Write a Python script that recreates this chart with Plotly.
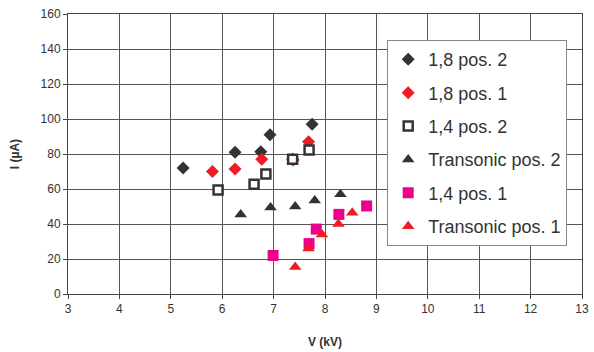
import plotly.graph_objects as go

# Data
v_18_p2 = [5.24, 6.25, 6.75, 6.93, 7.37, 7.75]
i_18_p2 = [72, 81, 81.3, 91, 77, 97]

v_18_p1 = [5.81, 6.25, 6.77, 7.38, 7.68]
i_18_p1 = [70, 71.4, 77, 76.6, 87]

v_14_p2 = [5.92, 6.62, 6.85, 7.37, 7.69]
i_14_p2 = [59.4, 62.7, 68.6, 77, 82.3]

v_tr_p2 = [6.36, 6.94, 7.42, 7.8, 8.3]
i_tr_p2 = [45.5, 49.5, 50, 53.5, 57]

v_14_p1 = [6.99, 7.69, 7.83, 8.27, 8.81]
i_14_p1 = [22, 28.8, 37.1, 45.5, 50.3]

v_tr_p1 = [7.42, 7.68, 7.94, 8.26, 8.53]
i_tr_p1 = [15.5, 26, 34, 40, 46.5]

x_ticks = list(range(3, 14))
y_ticks = list(range(0, 161, 20))

DARK = "#333333"
RED = "#EE1C25"
MAG = "#EC008C"
FONT = "Liberation Sans, Arial"

fig = go.Figure()
series = [
    ("1,8 pos. 2", v_18_p2, i_18_p2, dict(symbol="diamond", size=10, color=DARK)),
    ("1,8 pos. 1", v_18_p1, i_18_p1, dict(symbol="diamond", size=10, color=RED)),
    ("1,4 pos. 2", v_14_p2, i_14_p2, dict(symbol="square", size=9, color="white",
                                          line=dict(color=DARK, width=2.5))),
    ("Transonic pos. 2", v_tr_p2, i_tr_p2, dict(symbol="triangle-up", size=11, color=DARK)),
    ("1,4 pos. 1", v_14_p1, i_14_p1, dict(symbol="square", size=11, color=MAG)),
    ("Transonic pos. 1", v_tr_p1, i_tr_p1, dict(symbol="triangle-up", size=11, color=RED)),
]
for k, (name, xs, ys, mk) in enumerate(series):
    fig.add_trace(go.Scatter(x=xs, y=ys, mode="markers", name=name, marker=mk,
                             legendgroup=str(k)))

axis_common = dict(
    showgrid=True, gridcolor="#555555", gridwidth=1,
    showline=True, linecolor="#444444", linewidth=1, mirror=True,
    ticks="outside", ticklen=4, tickcolor="#444444",
    zeroline=False, automargin=False,
    tickfont=dict(family=FONT, size=12, color="#333333"),
)

fig.update_layout(
    width=594, height=352,
    margin=dict(l=68, r=12, t=14, b=58),
    paper_bgcolor="white", plot_bgcolor="white",
    xaxis=dict(range=[3, 13], tickvals=x_ticks, **axis_common,
               title=dict(text="<b>V (kV)</b>", standoff=22,
                          font=dict(family=FONT, size=12, color="#333333"))),
    yaxis=dict(range=[0, 160], tickvals=y_ticks, **axis_common,
               title=dict(text="<b>I (µA)</b>", standoff=18,
                          font=dict(family=FONT, size=12, color="#333333"))),
    legend=dict(x=0.621, y=0.907, xanchor="left", yanchor="top",
                bordercolor="#888888", borderwidth=1, bgcolor="white",
                font=dict(family=FONT, size=18, color="#333333"),
                traceorder="grouped", tracegroupgap=7, itemsizing="trace",
                itemwidth=30),
    showlegend=True,
)

fig.write_html("out.html")
